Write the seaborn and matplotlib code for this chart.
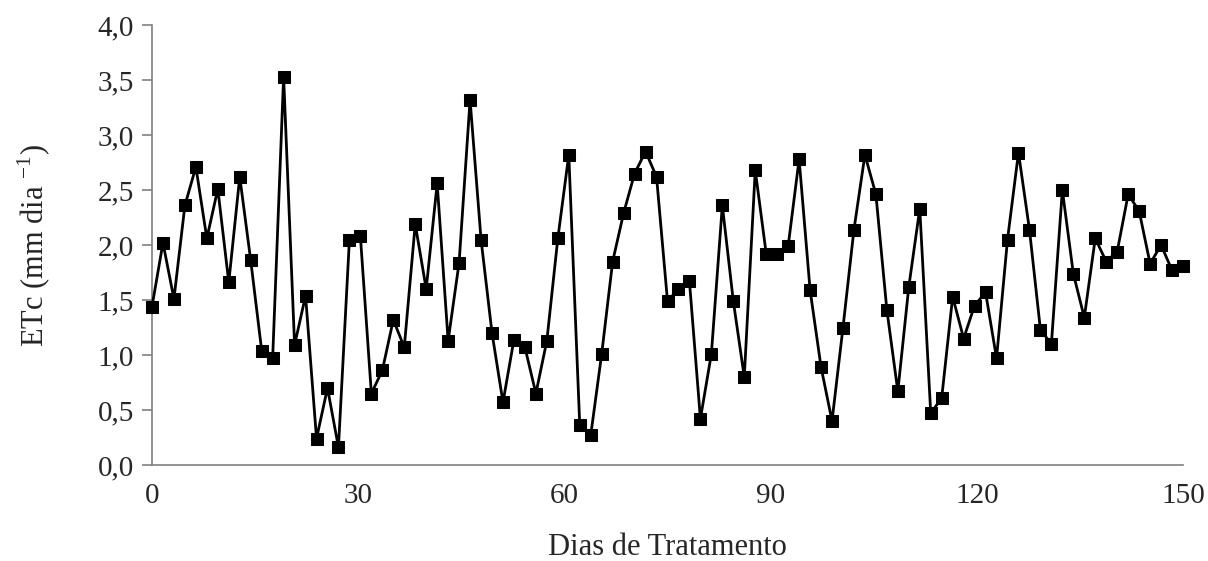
import seaborn as sns
import matplotlib.pyplot as plt
import numpy as np
import pandas as pd

# valores de ETc (95 leituras espaçadas igualmente de 0 a 150 dias)
etc = [1.44, 2.02, 1.51, 2.36, 2.71, 2.06, 2.51, 1.66, 2.62, 1.86,
       1.04, 0.97, 3.53, 1.09, 1.54, 0.24, 0.70, 0.16, 2.05, 2.08,
       0.65, 0.86, 1.32, 1.07, 2.19, 1.60, 2.56, 1.13, 1.84, 3.32,
       2.05, 1.20, 0.57, 1.14, 1.07, 0.65, 1.13, 2.06, 2.82, 0.36,
       0.27, 1.01, 1.85, 2.29, 2.65, 2.85, 2.62, 1.49, 1.60, 1.67,
       0.42, 1.01, 2.36, 1.49, 0.80, 2.68, 1.92, 1.92, 1.99, 2.78,
       1.59, 0.89, 0.40, 1.25, 2.14, 2.82, 2.46, 1.41, 0.67, 1.62,
       2.33, 0.47, 0.61, 1.53, 1.15, 1.45, 1.57, 0.97, 2.05, 2.84,
       2.14, 1.23, 1.10, 2.50, 1.74, 1.34, 2.06, 1.85, 1.94, 2.46,
       2.31, 1.83, 2.00, 1.77, 1.81]
dias = np.linspace(0, 150, len(etc))
xticks = [0, 30, 60, 90, 120, 150]
yticks = [0.0, 0.5, 1.0, 1.5, 2.0, 2.5, 3.0, 3.5, 4.0]

df = pd.DataFrame({'Dias': dias, 'ETc': etc})

sns.set_style("white")
plt.rcParams['font.family'] = ['Liberation Serif', 'DejaVu Serif']
plt.rcParams['mathtext.fontset'] = 'custom'
plt.rcParams['mathtext.rm'] = 'Liberation Serif'

fig = plt.figure(figsize=(12.08, 5.61), dpi=100)
ax = fig.add_axes([152 / 1208, 96 / 561, 1031 / 1208, 440 / 561])

sns.lineplot(data=df, x='Dias', y='ETc', ax=ax, color='black', linewidth=2.0,
             marker='s', markersize=8, markeredgecolor='black', markerfacecolor='black',
             clip_on=False, zorder=3)

ax.set_xlim(0, 150)
ax.set_ylim(0, 4.0)
ax.set_xticks(xticks)
ax.set_xticklabels([str(t) for t in xticks])
ax.set_yticks(yticks)
ax.set_yticklabels([f"{t:.1f}".replace('.', ',') for t in yticks])

for s in ['top', 'right']:
    ax.spines[s].set_visible(False)
for s in ['left', 'bottom']:
    ax.spines[s].set_color('#808080')
    ax.spines[s].set_linewidth(1.2)

ax.tick_params(axis='y', direction='out', length=7, width=1.2, color='#808080',
               labelsize=21, pad=6, left=True)
ax.tick_params(axis='x', length=0, labelsize=21, pad=13)

ax.set_xlabel('Dias de Tratamento', fontsize=22, labelpad=17)
ax.set_ylabel('ETc (mm dia $^{-1}$)', fontsize=22, labelpad=32)

fig.savefig('out.png', dpi=100)
